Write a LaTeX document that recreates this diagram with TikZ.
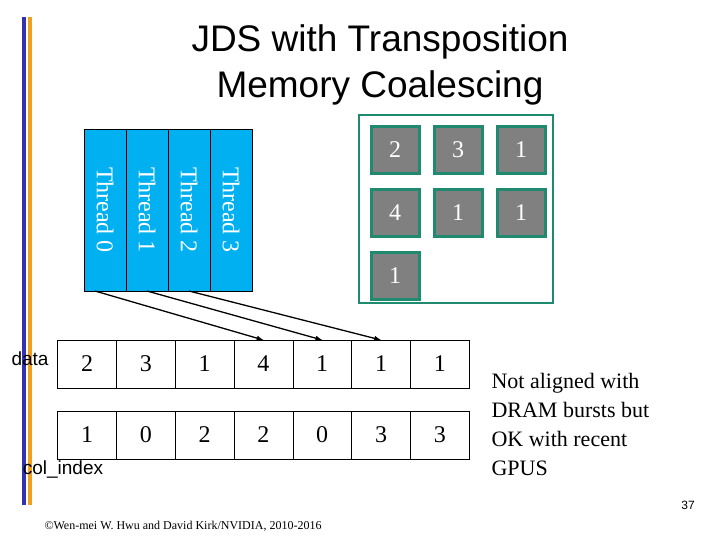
\documentclass[tikz,border=0pt]{standalone}
\usepackage{fontspec}
\setmainfont{Liberation Serif}
\newfontfamily\arialfont{Liberation Sans}
\usetikzlibrary{positioning}
\definecolor{threadblue}{HTML}{00B0F0}
\definecolor{cellgrey}{HTML}{808080}
\definecolor{boxgreen}{HTML}{1F8A70}
\definecolor{barblue}{HTML}{3333B2}
\definecolor{barorange}{HTML}{F0A020}

\begin{document}
\begin{tikzpicture}[x=1pt,y=-1pt]
  \tikzset{>=latex}
  \tikzset{threadbox/.style={draw,fill=threadblue,minimum width=42pt,minimum height=162pt,inner sep=0pt,outer sep=0pt,text=white,font=\fontsize{24}{26}\selectfont}}
  \tikzset{greycell/.style={draw=boxgreen,line width=3pt,fill=cellgrey,minimum width=48pt,minimum height=47pt,inner sep=0pt,text=white,font=\fontsize{24}{26}\selectfont}}
  \tikzset{arraycell/.style={draw,minimum width=58.8pt,minimum height=48pt,inner sep=0pt,outer sep=0pt,font=\fontsize{24}{26}\selectfont}}

  \useasboundingbox (0,0) rectangle (720,540);

%%%%%%%%%%%%%%%%%%%%%%%%%%
  \fill[barblue] (22,17) rectangle (26,505);
  \fill[barorange] (28,17) rectangle (32,505);

  \node (Title) at (380,65) [align=center,font=\arialfont\fontsize{37}{46}\selectfont] {JDS with Transposition\\Memory Coalescing};

%%%%%%%%%%%%%%%%%%%%%%%%%%
  \foreach \i in {0,...,3} {
    \node[threadbox] (T\i) at (105+42*\i,210) {\rotatebox{-90}{Thread \i}};
  }

%%%%%%%%%%%%%%%%%%%%%%%%%%
  \node[draw=boxgreen,line width=2.5pt,minimum width=194pt,minimum height=188pt,inner sep=0pt] (Matrix) at (456,209) {};
  \node[greycell] (M11) at (395,150) {2};
  \node[greycell,right=12pt of M11] (M12) {3};
  \node[greycell,right=12pt of M12] (M13) {1};
  \node[greycell,below=13pt of M11] (M21) {4};
  \node[greycell,right=12pt of M21] (M22) {1};
  \node[greycell,right=12pt of M22] (M23) {1};
  \node[greycell,below=13pt of M21] (M31) {1};

%%%%%%%%%%%%%%%%%%%%%%%%%%
  \foreach \v [count=\k] in {2,3,1,4,1,1,1} {
    \node[arraycell] (D\k) at (57.6+58.8*\k-29.4,364) {\v};
  }
  \foreach \v [count=\k] in {1,0,2,2,0,3,3} {
    \node[arraycell] (C\k) at (57.6+58.8*\k-29.4,435) {\v};
  }
  \node (NData) at (30,359) {\arialfont\fontsize{19}{22}\selectfont data};
  \node (NColIndex) at (63,470) {\arialfont\fontsize{19}{22}\selectfont col\_index};

%DOWN
  \draw[->,line width=1.3pt] ([xshift=-10pt]T0.south) -- (D4.north);
  \draw[->,line width=1.3pt] (T1.south) -- (D5.north);
  \draw[->,line width=1.3pt] (T2.south) -- (D6.north);

%%%%%%%%%%%%%%%
  \node (NNote) at (488,424) [anchor=west,align=left,font=\fontsize{22}{29}\selectfont] {Not aligned with\\DRAM bursts but\\OK with recent\\GPUS};
  \node (NPage) at (688,505) {\arialfont\fontsize{12}{14}\selectfont 37};
  \node (NCopy) at (183,526) {\fontsize{12}{14}\selectfont \textcopyright Wen-mei W. Hwu and David Kirk/NVIDIA, 2010-2016};

\end{tikzpicture}
\end{document}
